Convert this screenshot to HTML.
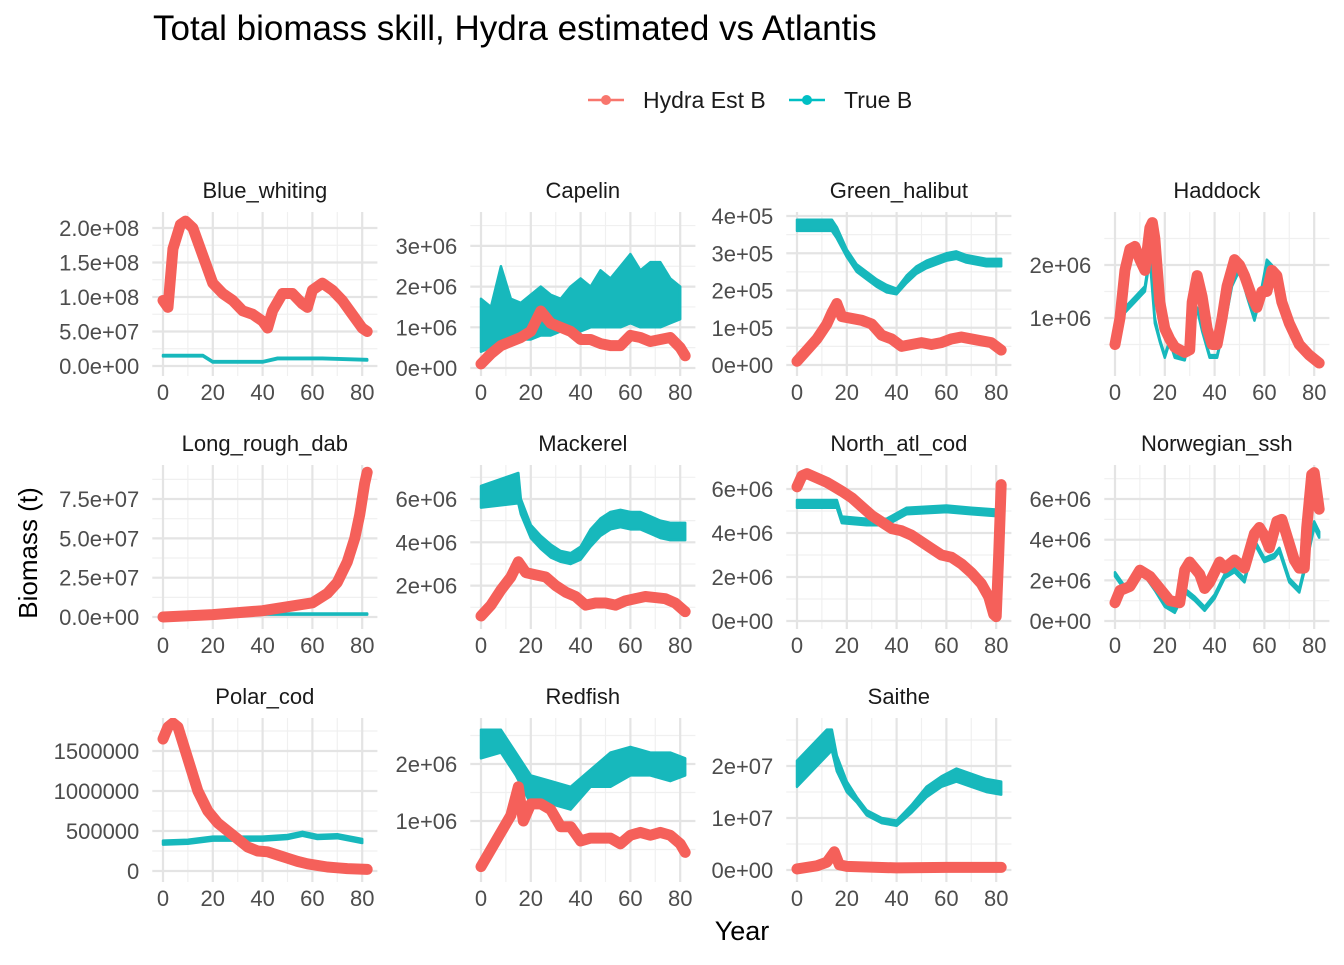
<!DOCTYPE html>
<html><head><meta charset="utf-8"><style>
body{margin:0;background:#fff;font-family:"Liberation Sans",Arial,sans-serif}
svg text{font-family:"Liberation Sans",Arial,sans-serif}
</style></head><body>
<svg id="c" width="1344" height="960" xmlns="http://www.w3.org/2000/svg">
<text x="153" y="40" font-size="35" fill="#000">Total biomass skill, Hydra estimated vs Atlantis</text>
<g>
<line x1="588" y1="100" x2="624" y2="100" stroke="#F8766D" stroke-width="2.5"/><circle cx="606" cy="100" r="5" fill="#F8766D"/>
<text x="643" y="108" font-size="23" fill="#1a1a1a">Hydra Est B</text>
<line x1="789" y1="100" x2="825" y2="100" stroke="#00BFC4" stroke-width="2.5"/><circle cx="807" cy="100" r="5" fill="#00BFC4"/>
<text x="844" y="108" font-size="23" fill="#1a1a1a">True B</text>
</g>
<text x="742" y="940" font-size="27" text-anchor="middle" fill="#000">Year</text>
<text transform="translate(37,553) rotate(-90)" font-size="26" text-anchor="middle" fill="#000">Biomass (t)</text>
</svg>
<script>
const names=["Blue_whiting","Capelin","Green_halibut","Haddock","Long_rough_dab","Mackerel","North_atl_cod","Norwegian_ssh","Polar_cod","Redfish","Saithe"];
const tickVals=[[0,0.5,1,1.5,2],[0,1,2,3],[0,1,2,3,4],[1,2],[0,2.5,5,7.5],[2,4,6],[0,2,4,6],[0,2,4,6],[0,5,10,15],[1,2],[0,1,2]];
const tickLabels=[["0.0e+00","5.0e+07","1.0e+08","1.5e+08","2.0e+08"],["0e+00","1e+06","2e+06","3e+06"],["0e+00","1e+05","2e+05","3e+05","4e+05"],["1e+06","2e+06"],["0.0e+00","2.5e+07","5.0e+07","7.5e+07"],["2e+06","4e+06","6e+06"],["0e+00","2e+06","4e+06","6e+06"],["0e+00","2e+06","4e+06","6e+06"],["0","500000","1000000","1500000"],["1e+06","2e+06"],["0e+00","1e+07","2e+07"]];
const minorVals=[[0.25,0.75,1.25,1.75],[0.5,1.5,2.5,3.5],[0.5,1.5,2.5,3.5],[0.5,1.5,2.5],[1.25,3.75,6.25,8.75],[1,3,5,7],[1,3,5],[1,3,5,7],[2.5,7.5,12.5,17.5],[0.5,1.5,2.5],[0.5,1.5,2.5]];
const hydraYears=[
[0,2,4,7,9,12,16,20,24,28,32,36,40,42,44,48,52,56,58,60,64,68,72,76,80,82],
[0,4,8,12,16,20,24,28,32,36,40,44,48,52,56,60,64,68,72,76,80,82],
[0,4,8,12,14,16,18,22,26,30,34,38,42,46,50,54,58,62,66,70,74,78,82],
[0,2,4,6,8,10,12,14,15,16,18,20,22,24,26,28,30,31,33,35,37,39,41,43,45,48,50,52,55,57,59,61,63,65,67,70,74,78,82],
[0,20,40,60,66,70,74,77,79,80,81,82],
[0,4,8,12,15,18,22,26,30,34,38,42,46,50,54,58,62,66,70,74,78,82],
[0,2,4,8,12,15,18,22,26,30,34,38,42,46,50,54,58,62,66,70,74,77,79,80,81,82],
[0,2,6,10,14,18,22,26,28,30,34,36,38,42,44,48,52,56,58,60,62,65,67,70,72,74,76,77,79,80,82],
[0,2,4,6,10,14,18,22,26,30,34,38,42,46,50,54,58,62,66,70,74,78,82],
[0,4,8,12,15,17,20,24,28,32,36,40,44,48,52,56,60,64,68,72,76,80,82],
[0,8,12,15,17,20,40,60,82]];
const hydraVals=[
[0.95,0.85,1.7,2.05,2.1,2.0,1.6,1.2,1.05,0.95,0.8,0.75,0.65,0.55,0.8,1.05,1.05,0.9,0.85,1.1,1.2,1.1,0.95,0.75,0.55,0.5],
[0.1,0.35,0.55,0.65,0.75,0.9,1.4,1.1,1.0,0.9,0.7,0.7,0.6,0.55,0.55,0.8,0.75,0.65,0.7,0.75,0.5,0.3],
[0.1,0.4,0.7,1.1,1.4,1.65,1.3,1.25,1.2,1.1,0.8,0.7,0.5,0.55,0.6,0.55,0.6,0.7,0.75,0.7,0.65,0.6,0.4],
[0.5,1.0,1.9,2.3,2.35,2.1,1.9,2.7,2.8,2.5,1.3,0.8,0.6,0.45,0.4,0.35,0.4,1.3,1.8,1.4,0.8,0.5,0.5,1.0,1.6,2.1,2.0,1.8,1.4,1.2,1.5,1.5,1.9,1.8,1.3,0.9,0.5,0.3,0.15],
[0,0.15,0.4,0.9,1.5,2.2,3.5,5.0,6.5,7.5,8.5,9.2],
[0.6,1.1,1.8,2.4,3.1,2.6,2.5,2.4,2.0,1.7,1.5,1.1,1.2,1.2,1.1,1.3,1.4,1.5,1.45,1.4,1.2,0.8],
[6.1,6.6,6.7,6.5,6.3,6.1,5.9,5.6,5.2,4.8,4.5,4.2,4.1,3.9,3.6,3.3,3.0,2.9,2.6,2.2,1.7,1.1,0.3,0.2,3.0,6.2],
[0.9,1.5,1.7,2.5,2.2,1.6,1.0,0.9,2.5,2.9,2.3,1.6,1.9,2.9,2.6,3.0,2.6,4.3,4.6,4.2,3.6,4.9,5.0,3.8,3.0,2.6,2.6,4.6,7.2,7.3,5.5],
[16.5,18,18.5,18,14,10,7.5,6,5,4,3,2.5,2.4,2.0,1.6,1.2,0.9,0.7,0.5,0.4,0.3,0.25,0.2],
[0.2,0.5,0.8,1.1,1.6,1.0,1.3,1.3,1.2,0.9,0.9,0.65,0.7,0.7,0.7,0.6,0.75,0.8,0.75,0.8,0.75,0.6,0.45],
[0.02,0.08,0.15,0.35,0.1,0.07,0.04,0.05,0.05]];
const trueYears=[
[0,16,20,40,46,64,82],
[0,4,8,12,16,20,24,28,32,36,40,44,48,52,56,60,64,68,72,76,80],
[0,14,16,20,24,28,32,36,40,44,48,52,56,60,64,68,72,76,82],
[0,4,8,12,14,16,18,20,22,24,28,31,33,35,38,41,44,47,50,53,56,59,61,63,65,68,72,76,82],
[0,40,82],
[0,15,16,20,24,28,32,36,40,44,48,52,56,60,64,68,72,76,82],
[0,16,18,28,36,44,60,70,82],
[0,4,8,12,16,20,24,28,32,36,40,44,48,52,56,60,64,66,70,74,77,80,82],
[0,10,20,30,40,50,56,62,70,80],
[0,8,14,20,28,36,44,52,60,68,76,82],
[0,4,8,12,14,16,20,24,28,34,40,46,52,58,64,70,76,82]];
const trueLo=[
[0.14,0.14,0.05,0.05,0.1,0.1,0.08],
[0.4,0.5,0.6,0.6,0.7,0.7,0.8,0.8,0.9,0.9,0.9,1.0,1.0,1.0,1.0,1.1,1.0,1.0,1.0,1.1,1.2],
[3.6,3.6,3.4,2.9,2.5,2.3,2.1,1.95,1.9,2.2,2.45,2.6,2.7,2.8,2.85,2.75,2.7,2.65,2.65],
[0.5,1.1,1.3,1.5,2.1,0.9,0.55,0.25,0.55,0.25,0.2,0.85,1.15,0.75,0.25,0.25,0.85,1.6,1.9,1.4,0.95,1.5,2.0,1.9,1.4,0.95,0.55,0.35,0.15],
[0.15,0.15,0.15],
[5.6,5.8,5.3,4.2,3.7,3.3,3.1,3.0,3.2,3.8,4.3,4.6,4.7,4.6,4.6,4.4,4.2,4.1,4.1],
[5.15,5.15,4.45,4.35,4.35,4.85,4.95,4.85,4.75],
[2.2,1.5,2.2,2.2,1.5,0.7,0.4,1.4,1.0,0.5,1.1,2.1,2.4,1.9,3.8,2.9,3.1,3.4,1.9,1.4,2.9,4.6,4.1],
[3.3,3.4,3.8,3.8,3.8,4.0,4.4,4.0,4.1,3.5],
[2.1,2.2,1.8,1.3,1.3,1.2,1.6,1.6,1.8,1.8,1.7,1.8],
[1.6,1.8,2.0,2.2,2.3,1.9,1.5,1.3,1.05,0.9,0.85,1.1,1.4,1.6,1.7,1.6,1.5,1.45]];
const trueHi=[
[0.16,0.16,0.07,0.07,0.12,0.12,0.1],
[1.7,1.5,2.5,1.7,1.6,1.8,2.0,1.8,1.7,2.0,2.2,2.0,2.4,2.2,2.5,2.8,2.4,2.6,2.6,2.2,2.0],
[3.9,3.9,3.7,3.1,2.7,2.5,2.3,2.15,2.05,2.4,2.65,2.8,2.9,3.0,3.05,2.95,2.9,2.85,2.85],
[0.55,1.2,1.4,1.6,2.2,1.0,0.6,0.3,0.6,0.3,0.25,0.9,1.2,0.8,0.3,0.3,0.9,1.7,2.0,1.5,1.0,1.6,2.1,2.0,1.5,1.0,0.6,0.4,0.2],
[0.22,0.22,0.22],
[6.6,7.2,6.0,4.8,4.3,3.9,3.6,3.5,3.8,4.6,5.1,5.4,5.5,5.4,5.4,5.2,5.0,4.9,4.9],
[5.5,5.5,4.75,4.65,4.65,5.15,5.25,5.15,5.05],
[2.4,1.7,2.4,2.4,1.7,0.9,0.6,1.6,1.2,0.7,1.3,2.3,2.6,2.1,4.0,3.1,3.3,3.6,2.1,1.6,3.1,4.9,4.4],
[3.8,3.9,4.3,4.3,4.3,4.5,4.9,4.5,4.6,4.0],
[2.6,2.6,2.2,1.8,1.7,1.6,1.9,2.2,2.3,2.2,2.2,2.1],
[2.1,2.3,2.5,2.7,2.7,2.2,1.7,1.4,1.15,1.0,0.95,1.25,1.6,1.8,1.95,1.85,1.75,1.7]];
const colX0=[163,481,797,1115], pxYr=2.49;
const rowTop=[212,465,718], panelH=164;
const zeroY=[366,368,365,371,617,629,621,621,871,878,870];
const unitPx=[69,40.7,37.25,53,15.73,21.67,22,20.33,8,57,52];
const NS="http://www.w3.org/2000/svg";
const svg=document.getElementById('c');
function el(t,a,p){const e=document.createElementNS(NS,t);for(const k in a)e.setAttribute(k,a[k]);(p||svg).appendChild(e);return e;}
names.forEach((nm,i)=>{
 const c=i%4,r=Math.floor(i/4);
 const xs=v=>colX0[c]+v*pxYr;
 const ys=v=>zeroY[i]-v*unitPx[i];
 const L=xs(-4.1)-0.5, R=xs(86.1), T=rowTop[r], B=T+panelH;
 const g=el('g',{});
 
 
 const clipId='cl'+i;
 const cp=el('clipPath',{id:clipId},g);el('rect',{x:L,y:T,width:R-L,height:B-T},cp);
 [10,30,50,70].forEach(v=>el('line',{x1:xs(v),x2:xs(v),y1:T,y2:B,stroke:'#f0f0f0','stroke-width':1.2},g));
 minorVals[i].forEach(v=>{const y=ys(v);if(y>T&&y<B)el('line',{x1:L,x2:R,y1:y,y2:y,stroke:'#f0f0f0','stroke-width':1.2},g);});
 [0,20,40,60,80].forEach(v=>{el('line',{x1:xs(v),x2:xs(v),y1:T,y2:B,stroke:'#e4e4e4','stroke-width':2.2},g);
  const t=el('text',{x:xs(v),y:B+24,'font-size':22,fill:'#4d4d4d','text-anchor':'middle'},g);t.textContent=v;});
 tickVals[i].forEach((v,k)=>{const y=ys(v);el('line',{x1:L,x2:R,y1:y,y2:y,stroke:'#e4e4e4','stroke-width':2.2},g);
  const t=el('text',{x:L-13,y:y+8,'font-size':22,fill:'#4d4d4d','text-anchor':'end'},g);t.textContent=tickLabels[i][k];});
 const st=el('text',{x:(L+R)/2,y:T-14,'font-size':22,fill:'#1a1a1a','text-anchor':'middle'},g);st.textContent=nm;
 
 
 const dg=el('g',{'clip-path':'url(#'+clipId+')'},g);
 const ty=trueYears[i];
 let d='M'+ty.map((y,k)=>xs(y)+','+ys(trueHi[i][k])).join('L');
 for(let k=ty.length-1;k>=0;k--)d+='L'+xs(ty[k])+','+ys(trueLo[i][k]);
 const band=el('path',{d:d+'Z',fill:'#17B8BC',stroke:'#17B8BC','stroke-width':2.5,'stroke-linejoin':'round'},dg);
 
 
 const hy=hydraYears[i];
 const hp=el('path',{d:'M'+hy.map((y,k)=>xs(y)+','+ys(hydraVals[i][k])).join('L'),fill:'none',stroke:'#F5605A','stroke-width':11,'stroke-linejoin':'round','stroke-linecap':'round'},dg);
 
 
});
</script>
</body></html>
